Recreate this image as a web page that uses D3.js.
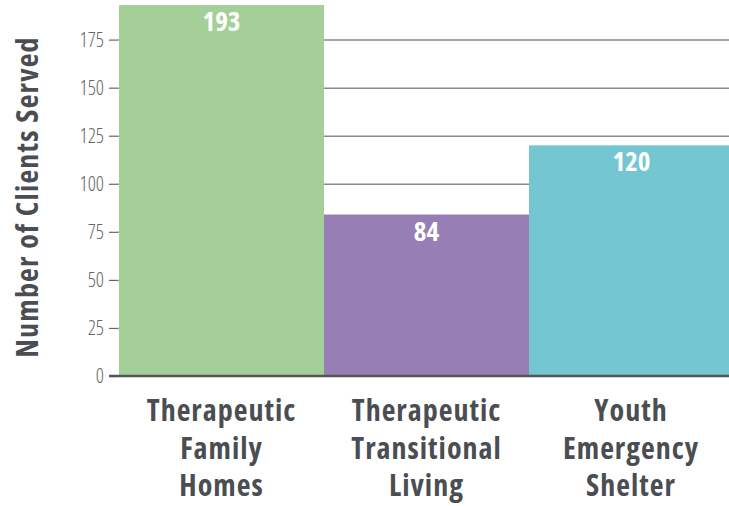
<!DOCTYPE html>
<html>
<head>
<meta charset="utf-8">
<script src="https://cdn.jsdelivr.net/npm/d3@7"></script>
<style>
  body { margin: 0; background: #fff; }
  svg text { font-family: "Open Sans", "Liberation Sans Narrow", "DejaVu Sans Condensed", sans-serif; font-stretch: 75%; }
</style>
</head>
<body>
<svg id="chart" width="729" height="506"></svg>
<script>
// program names and clients served
var categories = [["Therapeutic", "Family", "Homes"], ["Therapeutic", "Transitional", "Living"], ["Youth", "Emergency", "Shelter"]];
var clientsServed = [193, 84, 120];
var barColors = ["#a4cf99", "#977fb5", "#73c6d2"];
var yTicks = [0, 25, 50, 75, 100, 125, 150, 175];

var svg = d3.select("#chart");
var plotLeft = 119, plotRight = 729, plotTop = 5, plotBottom = 376;

// last bar runs off the right edge a little
var xScale = d3.scaleBand()
    .domain(d3.range(clientsServed.length))
    .range([plotLeft, 734])
    .padding(0);
var yScale = d3.scaleLinear()
    .domain([0, 193])
    .range([plotBottom, plotTop]);

// gridlines behind bars
svg.append("g")
    .selectAll("line")
    .data(yTicks.slice(1))
    .enter()
    .append("line")
    .attr("x1", plotLeft - 2)
    .attr("x2", plotRight)
    .attr("y1", function (d) { return yScale(d) + 0.5; })
    .attr("y2", function (d) { return yScale(d) + 0.5; })
    .attr("stroke", "#8a8a8a")
    .attr("stroke-width", 1.5);

svg.append("g")
    .selectAll("rect")
    .data(clientsServed)
    .enter()
    .append("rect")
    .attr("x", function (d, i) { return xScale(i); })
    .attr("y", function (d) { return yScale(d); })
    .attr("width", xScale.bandwidth())
    .attr("height", function (d) { return plotBottom - yScale(d); })
    .attr("fill", function (d, i) { return barColors[i]; });

// value labels inside bars
svg.append("g")
    .selectAll("text")
    .data(clientsServed)
    .enter()
    .append("text")
    .attr("x", function (d, i) { return xScale(i) + xScale.bandwidth() / 2; })
    .attr("y", function (d) { return yScale(d) + 26; })
    .attr("text-anchor", "middle")
    .attr("fill", "#fff")
    .attr("font-size", 27)
    .attr("font-weight", "bold")
    .text(function (d) { return d; });

// y axis
var yAxis = svg.append("g")
    .attr("transform", "translate(" + (plotLeft - 2) + ",0)")
    .call(d3.axisLeft(yScale).tickValues(yTicks).tickSize(8).tickPadding(5));
yAxis.select(".domain").remove();
yAxis.selectAll(".tick line").attr("stroke", "#666").attr("stroke-width", 1.2);
yAxis.selectAll(".tick text")
    .attr("fill", "#666")
    .attr("font-size", 20)
    .attr("font-weight", 300);

// baseline
svg.append("line")
    .attr("x1", plotLeft - 10)
    .attr("x2", plotRight)
    .attr("y1", yScale(0))
    .attr("y2", yScale(0))
    .attr("stroke", "#555")
    .attr("stroke-width", 2.5);

// category labels
var catLabels = svg.append("g")
    .selectAll("text")
    .data(categories)
    .enter()
    .append("text")
    .attr("text-anchor", "middle")
    .attr("fill", "#4a4d52")
    .attr("font-size", 30)
    .attr("font-weight", "bold")
    .style("letter-spacing", "1px");
catLabels.selectAll("tspan")
    .data(function (d, i) { return d.map(function (line) { return { line: line, i: i }; }); })
    .enter()
    .append("tspan")
    .attr("x", function (d) { return Math.min(xScale(d.i) + xScale.bandwidth() / 2, 631); })
    .attr("y", function (d, j) { return 421 + j * 37.5; })
    .text(function (d) { return d.line; });

// y axis title
svg.append("text")
    .attr("transform", "translate(38," + 197 + ") rotate(-90)")
    .attr("text-anchor", "middle")
    .attr("fill", "#4a4d52")
    .attr("font-size", 30)
    .attr("font-weight", "bold")
    .style("letter-spacing", "1.2px")
    .text("Number of Clients Served");
</script>
</body>
</html>
